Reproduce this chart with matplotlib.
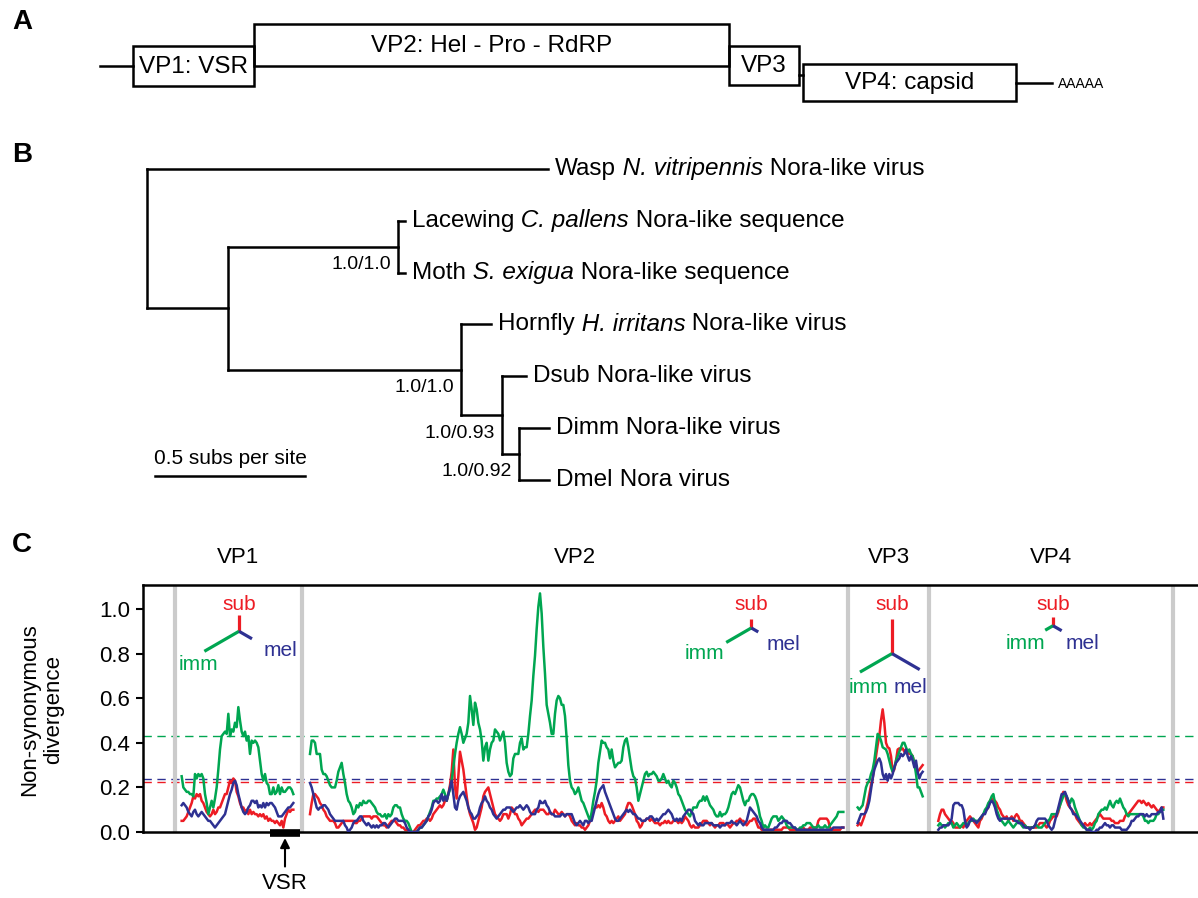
import numpy as np
import matplotlib.pyplot as plt
from matplotlib.patches import Rectangle

plt.rcParams['font.family'] = ['Liberation Sans', 'DejaVu Sans']

RED = '#ed1c24'
GREEN = '#00a651'
BLUE = '#2e3192'
GRAY = '#cbcbcb'

# ---------------- panel A: genome map ----------------
gene_names = ["VP1: VSR", "VP2: Hel - Pro - RdRP", "VP3", "VP4: capsid"]
gene_left = [133, 254, 729, 803]
gene_right = [254, 729, 799, 1016]
gene_top = [46, 24, 46, 64]
gene_bottom = [86, 66, 85, 101]

# ---------------- panel B: tree ----------------
# (host, species in italics, rest)
tip_host = ["Wasp", "Lacewing", "Moth", "Hornfly", "Dsub", "Dimm", "Dmel"]
tip_species = ["N. vitripennis", "C. pallens", "S. exigua", "H. irritans", "", "", ""]
tip_rest = ["Nora-like virus", "Nora-like sequence", "Nora-like sequence", "Nora-like virus",
            "Nora-like virus", "Nora-like virus", "Nora virus"]
# (support, [(child, branch length in subs/site), ...]); ints are tips
tree = (None, [
    (0, 1.337),
    ((None, [
        (("1.0/1.0", [(1, 0.023), (2, 0.023)]), 0.567),
        (("1.0/1.0", [
            (3, 0.10),
            (("1.0/0.93", [
                (4, 0.08),
                (("1.0/0.92", [(5, 0.10), (6, 0.10)]), 0.057),
            ]), 0.137),
        ]), 0.777),
    ]), 0.27),
])
scale_len = 0.5

# ---------------- panel C: sliding-window divergence ----------------
step = 5  # codons between windows
regions = ["VP1", "VP2", "VP3", "VP4"]
region_bounds = [96, 477, 2115, 2358, 3090]
seg_start = [116, 501, 2144, 2386]
genome_end = 3165

sub_vp1 = [.05, .05, .06, .07, .09, .11, .13, .16, .15, .17, .16, .17, .14, .13, .11, .09, .08, .07, .08, .10,
           .08, .09, .11, .11, .13, .15, .17, .17, .20, .23, .22, .24, .23, .18, .16, .13, .11, .11, .09, .10,
           .08, .10, .08, .09, .08, .08, .07, .08, .07, .08, .06, .07, .05, .06, .05, .05, .04, .05, .04, .03,
           .05, .02, .06, .08, .10, .09, .10, .10]
imm_vp1 = [.25, .20, .19, .18, .18, .17, .17, .16, .26, .24, .26, .25, .26, .24, .17, .13, .08, .11, .14, .11,
           .15, .20, .28, .37, .43, .44, .45, .44, .53, .43, .46, .45, .49, .47, .56, .50, .45, .43, .45, .41,
           .43, .35, .41, .40, .41, .40, .38, .32, .26, .23, .26, .22, .21, .17, .17, .20, .17, .18, .21, .17,
           .20, .18, .18, .19, .20, .20, .19, .17]
mel_vp1 = [.12, .13, .12, .11, .09, .08, .07, .09, .10, .08, .07, .08, .09, .08, .07, .06, .05, .05, .04, .03,
           .02, .03, .04, .05, .06, .07, .08, .11, .14, .17, .19, .22, .23, .21, .17, .14, .11, .09, .08, .09,
           .11, .12, .14, .14, .13, .14, .11, .12, .11, .13, .11, .13, .12, .13, .13, .12, .11, .09, .07, .07,
           .07, .08, .09, .10, .11, .11, .12, .13]

sub_vp2 = [.08, .13, .17, .17, .16, .15, .13, .12, .10, .09, .07, .06, .05, .05, .05, .04, .02, .02, .03, .04,
           .05, .05, .05, .05, .05, .05, .05, .04, .04, .05, .05, .06, .07, .07, .07, .07, .07, .06, .07, .07,
           .07, .06, .05, .04, .03, .03, .02, .03, .04, .05, .05, .05, .04, .03, .03, .02, .02, .01, .01, .01,
           .00, .00, .00, .01, .02, .03, .03, .04, .05, .05, .06, .06, .05, .06, .08, .09, .10, .11, .12, .11,
           .12, .14, .14, .17, .21, .27, .37, .20, .15, .25, .36, .32, .28, .22, .16, .11, .08, .06, .04, .01,
           .02, .05, .08, .11, .16, .18, .19, .20, .17, .14, .11, .08, .07, .06, .05, .06, .08, .08, .08, .06,
           .08, .11, .10, .08, .08, .06, .05, .03, .04, .05, .06, .06, .07, .08, .09, .10, .10, .09, .10, .10,
           .10, .09, .08, .08, .09, .08, .08, .10, .09, .08, .08,
           .09, .08, .07, .08, .08, .07, .05, .04, .03, .04, .03, .03, .02, .02, .01, .02, .03, .05, .07, .10,
           .11, .11, .12, .11, .13, .11, .08, .07, .05, .04, .05, .04, .05, .06, .07, .05, .06, .07, .08, .11,
           .13, .13, .12, .10, .08, .05, .04, .02, .03, .05, .05, .06, .06, .05, .06, .05, .04, .04, .04, .03,
           .04, .04, .05, .04, .05, .04, .04, .05, .05, .05, .04, .05, .04, .05, .07, .06, .05, .03, .02, .03,
           .02, .02, .02, .03, .04, .05, .05, .05, .04, .03, .04, .03, .02, .03, .03, .04, .04, .04, .03, .04,
           .03, .02, .03, .04, .04, .05, .05, .06, .05, .05, .04, .03, .04, .05, .05, .06, .06, .04, .02, .02,
           .01, .01, .01, .01, .01, .01, .01, .01, .01, .01, .01, .01, .01, .02, .02, .02, .02, .01, .01, .01,
           .01, .01, .01, .01, .02, .02, .01, .01,
           .01, .02, .02, .02, .02, .02, .05, .06, .06, .06, .06, .06, .05, .02, .01, .01, .01, .01, .01, .01,
           .02, .02]
imm_vp2 = [.35, .41, .41, .40, .35, .35, .35, .28, .26, .26, .25, .23, .21, .20, .20, .20, .23, .27, .29, .31,
           .26, .22, .17, .14, .13, .11, .08, .09, .12, .11, .13, .12, .14, .13, .13, .14, .14, .13, .12, .11,
           .09, .08, .08, .07, .07, .08, .06, .08, .07, .08, .11, .12, .12, .11, .11, .08, .06, .05, .05, .04,
           .02, .00, .00, .00, .00, .01, .02, .02, .03, .04, .05, .07, .09, .11, .14, .14, .15, .15, .16, .17,
           .19, .17, .14, .17, .19, .23, .29, .35, .40, .44, .47, .44, .40, .42, .44, .49, .61, .55, .48, .58,
           .55, .49, .46, .41, .32, .38, .40, .32, .37, .40, .41, .46, .45, .44, .41, .43, .45, .40, .31, .27,
           .25, .26, .33, .35, .35, .35, .40, .42, .37, .38, .38, .44, .52, .59, .70, .79, .91, 1.01, 1.07, .98,
           .83, .71, .57, .53, .49, .44, .44, .53, .59, .61, .60,
           .57, .57, .52, .42, .30, .23, .20, .19, .17, .18, .20, .17, .14, .13, .11, .09, .07, .05, .09, .14,
           .18, .23, .31, .36, .41, .40, .40, .38, .37, .33, .37, .32, .29, .30, .31, .31, .32, .38, .41, .42,
           .38, .33, .28, .25, .24, .20, .14, .17, .20, .23, .26, .27, .25, .26, .26, .27, .26, .25, .23, .23,
           .24, .26, .24, .22, .23, .21, .20, .23, .22, .20, .17, .16, .14, .12, .10, .09, .08, .07, .09, .11,
           .11, .11, .13, .14, .14, .16, .14, .16, .14, .12, .11, .10, .08, .07, .07, .09, .07, .08, .08, .09,
           .11, .14, .17, .18, .17, .19, .21, .20, .17, .14, .12, .14, .14, .16, .17, .17, .16, .14, .11, .07,
           .05, .02, .03, .02, .02, .04, .06, .07, .07, .07, .05, .06, .07, .06, .05, .03, .02, .02, .02, .02,
           .02, .01, .01, .02, .02, .03, .03, .04,
           .04, .04, .03, .02, .02, .02, .03, .02, .02, .02, .03, .02, .02, .03, .04, .05, .06, .07, .09, .09,
           .09, .09]
mel_vp2 = [.22, .20, .17, .14, .11, .10, .11, .11, .12, .12, .11, .10, .08, .07, .06, .05, .05, .05, .05, .05,
           .05, .03, .02, .00, .01, .02, .04, .05, .05, .06, .07, .07, .05, .04, .03, .04, .03, .02, .03, .02,
           .03, .02, .03, .03, .04, .04, .03, .02, .03, .04, .05, .06, .06, .05, .05, .05, .05, .04, .02, .01,
           .00, .00, .00, .00, .00, .01, .02, .02, .03, .04, .05, .07, .08, .10, .13, .14, .14, .13, .14, .17,
           .14, .16, .14, .17, .20, .23, .17, .11, .10, .14, .16, .17, .18, .16, .14, .11, .09, .08, .06, .06,
           .07, .08, .11, .13, .14, .16, .14, .13, .11, .10, .08, .07, .06, .07, .08, .09, .10, .10, .11, .11,
           .11, .10, .09, .10, .11, .11, .12, .11, .10, .11, .12, .11, .09, .08, .08, .08, .10, .11, .14, .13,
           .13, .14, .12, .11, .09, .08, .08, .07, .07, .07, .07,
           .08, .08, .07, .08, .08, .08, .08, .06, .04, .03, .04, .05, .04, .03, .05, .05, .04, .05, .05, .08,
           .11, .14, .17, .19, .20, .21, .18, .16, .14, .12, .10, .08, .06, .05, .05, .06, .07, .08, .09, .10,
           .09, .10, .09, .08, .08, .07, .06, .06, .05, .05, .05, .06, .06, .07, .07, .06, .05, .06, .05, .06,
           .07, .08, .08, .09, .10, .09, .08, .06, .05, .06, .05, .06, .05, .07, .08, .09, .10, .10, .09, .08,
           .05, .04, .03, .04, .03, .03, .04, .04, .04, .04, .04, .03, .03, .03, .03, .02, .03, .03, .03, .04,
           .04, .04, .05, .04, .04, .03, .04, .05, .04, .03, .04, .05, .08, .11, .10, .09, .08, .07, .05, .04,
           .02, .01, .01, .01, .01, .01, .01, .01, .02, .02, .03, .04, .04, .05, .05, .05, .04, .04, .03, .02,
           .02, .01, .01, .01, .01, .01, .01, .01,
           .01, .01, .01, .01, .01, .01, .01, .01, .01, .01, .01, .01, .01, .01, .01, .02, .02, .02, .02, .02,
           .02, .02]

sub_vp3 = [.03, .04, .03, .05, .07, .10, .13, .17, .21, .24, .29, .34, .39, .43, .50, .55, .49, .40, .38, .375,
           .34, .27, .28, .32, .37, .375, .37, .375, .36, .37, .36, .35, .35, .34, .31, .28, .27, .28, .29, .30]
imm_vp3 = [.11, .10, .11, .12, .16, .20, .22, .23, .26, .28, .32, .38, .44, .43, .41, .38, .375, .37, .35, .32,
           .29, .27, .29, .32, .34, .36, .38, .40, .40, .38, .36, .37, .35, .34, .31, .26, .20, .20, .18, .16]
mel_vp3 = [.04, .06, .08, .08, .08, .09, .11, .14, .19, .24, .28, .30, .32, .33, .31, .26, .24, .26, .23, .26,
           .24, .26, .29, .31, .32, .33, .35, .34, .35, .37, .34, .32, .34, .32, .29, .32, .27, .24, .26, .27]

sub_vp4 = [.05, .08, .10, .10, .08, .07, .06, .05, .05, .04, .02, .02, .02, .02, .03, .02, .04, .05, .06, .07,
           .06, .05, .04, .03, .02, .05, .06, .08, .09, .10, .11, .14, .15, .14, .14, .13, .11, .10, .08, .07,
           .06, .07, .05, .06, .07, .05, .07, .08, .07, .05, .05, .04, .03, .02, .02, .02, .02, .02, .02, .02,
           .03, .04, .04, .04, .03, .02, .03, .05, .06, .07, .07, .07, .09, .12, .16, .18, .17, .14, .12, .11,
           .10, .09, .08, .06, .05, .04, .03, .03, .04, .03, .03, .04, .03, .04, .05, .06, .07, .08, .07, .06,
           .06, .06, .06, .06, .05, .05, .04, .04, .04, .05, .05, .05, .07, .08, .08, .09, .10, .11, .12, .13,
           .14, .14, .13, .14, .13, .12, .13, .12, .11, .12, .11, .10, .09, .10, .11, .11]
imm_vp4 = [.03, .04, .03, .03, .02, .03, .04, .04, .04, .02, .03, .04, .03, .02, .03, .04, .04, .03, .04, .05,
           .05, .06, .05, .05, .05, .06, .07, .08, .10, .11, .13, .14, .16, .17, .13, .10, .08, .06, .05, .04,
           .03, .04, .05, .04, .03, .02, .03, .04, .05, .04, .03, .02, .03, .02, .02, .02, .02, .02, .03, .03,
           .02, .02, .02, .03, .04, .05, .05, .06, .08, .08, .08, .08, .10, .12, .14, .16, .17, .16, .14, .13,
           .15, .14, .11, .09, .07, .05, .03, .02, .02, .01, .01, .02, .01, .02, .04, .05, .08, .09, .10, .10,
           .11, .10, .12, .14, .12, .11, .13, .14, .13, .15, .13, .11, .10, .08, .07, .08, .08, .08, .08, .08,
           .08, .08, .08, .07, .05, .05, .04, .05, .05, .05, .06, .08, .08, .09, .10, .10]
mel_vp4 = [.01, .02, .02, .03, .03, .03, .03, .04, .06, .12, .13, .13, .13, .12, .12, .10, .05, .02, .03, .05,
           .06, .05, .05, .04, .05, .06, .07, .08, .08, .10, .11, .13, .14, .13, .11, .08, .06, .05, .06, .06,
           .06, .06, .06, .06, .06, .06, .05, .05, .04, .04, .04, .03, .02, .02, .02, .01, .02, .02, .03, .05,
           .06, .06, .06, .06, .06, .05, .03, .02, .01, .02, .05, .08, .11, .14, .17, .17, .18, .16, .14, .11,
           .10, .08, .08, .07, .06, .05, .04, .03, .02, .01, .01, .01, .00, .00, .00, .01, .01, .02, .02, .03,
           .04, .03, .03, .02, .03, .03, .02, .02, .02, .02, .01, .01, .01, .01, .02, .03, .05, .05, .06, .07,
           .07, .08, .08, .08, .07, .08, .07, .07, .08, .08, .08, .08, .09, .09, .11, .06]

sub_series = [sub_vp1, sub_vp2, sub_vp3, sub_vp4]
imm_series = [imm_vp1, imm_vp2, imm_vp3, imm_vp4]
mel_series = [mel_vp1, mel_vp2, mel_vp3, mel_vp4]

mean_sub, mean_imm, mean_mel = 0.226, 0.432, 0.238

# little per-protein trees: centre (codon, divergence) and branch lengths (px)
itree_x = [288, 1825, 2247, 2730]
itree_y = [0.90, 0.915, 0.80, 0.925]
itree_sub = [16, 9, 35, 9]
itree_imm = [40, 29, 37, 9]
itree_mel = [15, 8, 32, 10]
imm_label_off = [(-41, 33), (-47, 26), (-24, 34), (-28, 18)]
mel_label_off = [(41, 19), (32, 17), (18, 34), (29, 18)]

vsr_start, vsr_end = 381, 471

# ================= drawing =================
fig = plt.figure(figsize=(11.98, 8.98), dpi=100)

ax = fig.add_axes([143 / 1198, 66 / 898, 1055 / 1198, 247 / 898])
ov = fig.add_axes([0, 0, 1, 1], zorder=5)
ov.set_xlim(0, 1198)
ov.set_ylim(898, 0)
ov.axis('off')
ov.patch.set_visible(False)

LW = 1.8
FS = 16

# panel letters
for letter, y in zip("ABC", [22, 155, 545]):
    ov.text(22, y, letter, fontsize=20, fontweight='bold', ha='center', va='center')

# ---- A ----
ov.plot([100, gene_left[0]], [66, 66], color='k', lw=LW)
ov.plot([gene_right[2], gene_left[3]], [75, 75], color='k', lw=LW)
ov.plot([gene_right[3], 1052], [83, 83], color='k', lw=LW)
for name, l, r, t, b in zip(gene_names, gene_left, gene_right, gene_top, gene_bottom):
    ov.add_patch(Rectangle((l, t), r - l, b - t, fill=False, lw=LW, ec='k'))
    ov.text((l + r) / 2, (t + b) / 2 + 1, name, ha='center', va='center', fontsize=17.5)
ov.text(1058, 84, "AAAAA", ha='left', va='center', fontsize=10)

# ---- B ----
px_per_sub = 300
root_x = 147
row_y = [169 + 51.8 * i for i in range(len(tip_host))]
TIP_FS = 17.5


def tip_label(i, x, y):
    t = ov.text(x, y, tip_host[i], ha='left', va='center', fontsize=TIP_FS)
    if tip_species[i]:
        t = ov.annotate(" " + tip_species[i], xy=(1, 0.5), xycoords=t, ha='left', va='center',
                        fontsize=TIP_FS, style='italic')
    ov.annotate(" " + tip_rest[i], xy=(1, 0.5), xycoords=t, ha='left', va='center', fontsize=TIP_FS)


def draw_clade(node, x):
    if isinstance(node, int):
        y = row_y[node]
        tip_label(node, x + 7, y)
        return y
    support, kids = node
    ys = []
    for child, bl in kids:
        x1 = x + bl * px_per_sub
        yc = draw_clade(child, x1)
        ov.plot([x, x1], [yc, yc], color='k', lw=LW, solid_capstyle='projecting')
        ys.append(yc)
    ov.plot([x, x], [min(ys), max(ys)], color='k', lw=LW, solid_capstyle='projecting')
    y = (min(ys) + max(ys)) / 2
    if support:
        ov.text(x - 7, y + 18, support, ha='right', va='center', fontsize=14)
    return y


draw_clade(tree, root_x)
ov.plot([155, 155 + scale_len * px_per_sub], [476, 476], color='k', lw=LW)
ov.text(155 + scale_len * px_per_sub / 2, 459, "0.5 subs per site", ha='center', va='center', fontsize=15)

# ---- C ----
ax.set_xlim(0, genome_end)
ax.set_ylim(0, 1.1076)
for sp in ['top', 'bottom', 'left']:
    ax.spines[sp].set_linewidth(LW)
ax.spines['right'].set_visible(False)
ax.set_xticks([])
ax.set_yticks([0, 0.2, 0.4, 0.6, 0.8, 1.0])
ax.set_yticklabels(['%.1f' % v for v in [0, 0.2, 0.4, 0.6, 0.8, 1.0]])
ax.tick_params(axis='y', direction='out', length=5, width=1.5, labelsize=FS, pad=4)

for m, c in [(mean_imm, GREEN), (mean_mel, BLUE), (mean_sub, RED)]:
    ax.axhline(m, color=c, lw=1.0, dashes=(6, 4), zorder=1)
for b in region_bounds:
    ax.axvline(b, color=GRAY, lw=3, zorder=2)

for i in range(4):
    for vals, c in [(sub_series[i], RED), (imm_series[i], GREEN), (mel_series[i], BLUE)]:
        x = seg_start[i] + step * np.arange(len(vals))
        ax.plot(x, vals, color=c, lw=1.8, zorder=3)

for i, name in enumerate(regions):
    xc = (region_bounds[i] + region_bounds[i + 1]) / 2
    ax.text(xc, 1.229, name, ha='center', va='center', fontsize=FS, clip_on=False)

fig.text(42 / 1198, 1 - 710 / 898, "Non-synonymous\ndivergence", rotation=90,
         ha='center', va='center', fontsize=FS, multialignment='center')

# VSR marker
ax.plot([vsr_start, vsr_end], [-0.003, -0.003], color='k', lw=5.5, solid_capstyle='butt',
        clip_on=False, zorder=4)
ax.annotate("VSR", xy=((vsr_start + vsr_end) / 2, -0.027), xytext=((vsr_start + vsr_end) / 2, -0.233),
            ha='center', va='center', fontsize=FS, annotation_clip=False,
            arrowprops=dict(arrowstyle='-|>', color='k', lw=1.5, shrinkA=3, shrinkB=0,
                            mutation_scale=14))

# inset trees (angles: sub up, imm lower-left, mel lower-right)
to_ov = ax.transData + ov.transData.inverted()
angles = {'sub': 90, 'imm': 210, 'mel': 330}
for i in range(4):
    cx, cy = to_ov.transform((itree_x[i], itree_y[i]))
    for key, L, c in [('sub', itree_sub[i], RED), ('imm', itree_imm[i], GREEN), ('mel', itree_mel[i], BLUE)]:
        a = np.deg2rad(angles[key])
        ov.plot([cx, cx + L * np.cos(a)], [cy, cy - L * np.sin(a)], color=c, lw=2.3,
                solid_capstyle='butt')
    ov.text(cx, 610, "sub", color=RED, ha='center', va='baseline', fontsize=15)
    ov.text(cx + imm_label_off[i][0], cy + imm_label_off[i][1], "imm", color=GREEN,
            ha='center', va='center', fontsize=15)
    ov.text(cx + mel_label_off[i][0], cy + mel_label_off[i][1], "mel", color=BLUE,
            ha='center', va='center', fontsize=15)

fig.savefig("out.png", dpi=100)
